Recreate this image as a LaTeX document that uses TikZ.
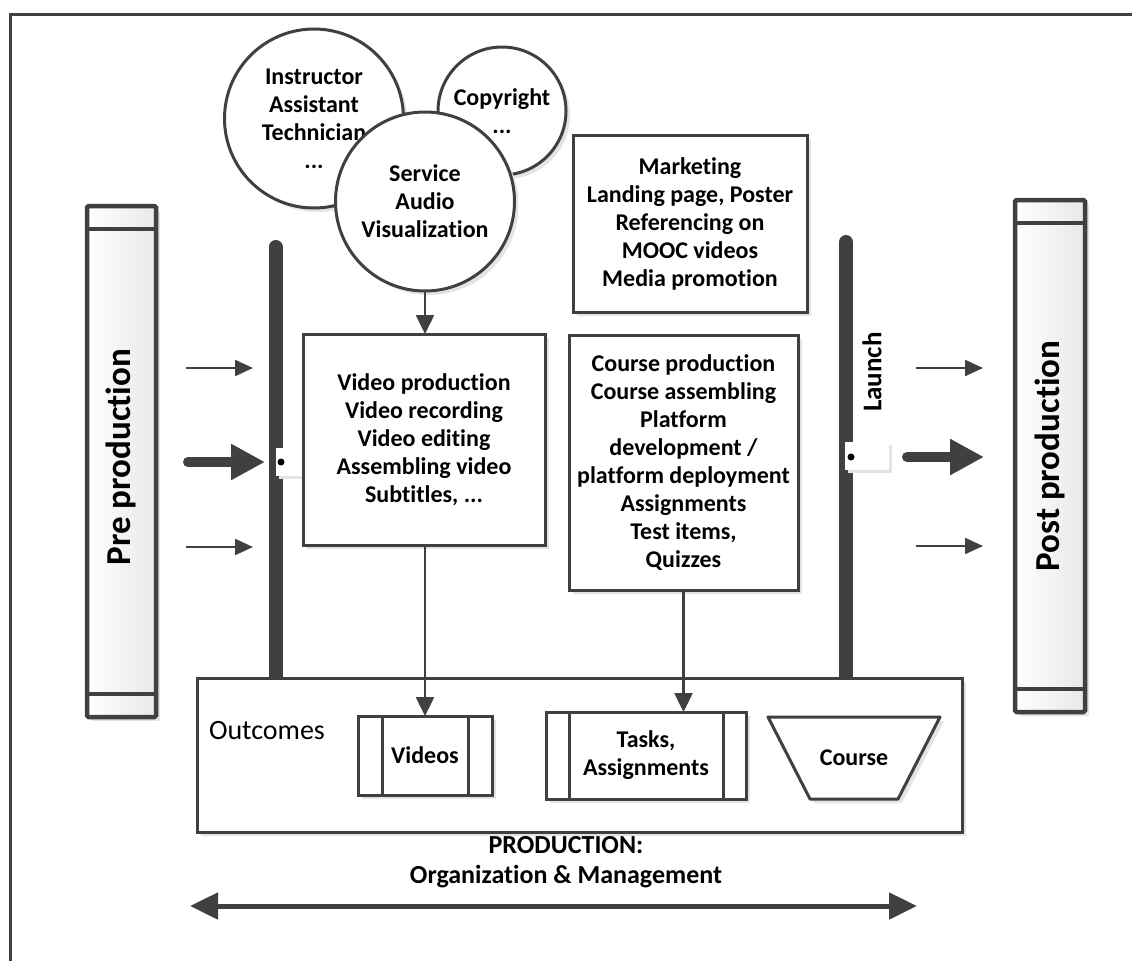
\documentclass[tikz,border=0pt]{standalone}
\usepackage{fontspec}
\setmainfont[Ligatures=NoCommon]{Carlito}
\usetikzlibrary{arrows.meta,shadows,calc}
\definecolor{ink}{HTML}{404040}
\definecolor{shade}{HTML}{E4E4E4}
\begin{document}
\begin{tikzpicture}[x=1pt,y=-1pt,
  every node/.style={inner sep=0pt, outer sep=0pt},
  txt/.style={font=\fontsize{24}{28}\selectfont\bfseries, align=center, text=black},
  soft/.style={drop shadow={shadow xshift=4pt, shadow yshift=-4pt, fill=shade, opacity=1}},
  box/.style={draw=ink, line width=3pt, fill=white, soft, txt},
  ball/.style={circle, draw=ink, line width=3pt, fill=white, soft, txt},
  phase/.style={draw=ink, line width=4.5pt, rounded corners=1.5pt, left color=white, right color=black!9, soft},
  phasetext/.style={font=\fontsize{35}{40}\selectfont\bfseries, rotate=90},
  bar/.style={draw=ink, line width=14pt, line cap=round},
  notch/.style={fill=white, drop shadow={shadow xshift=3pt, shadow yshift=-3pt, fill=shade, opacity=1}},
  dot/.style={circle, fill=black, minimum size=7pt},
  flow/.style={draw=ink, line width=2.2pt, -{Triangle[length=18pt,width=16pt]}},
  bigflow/.style={draw=ink, line width=10pt, line cap=round, -{Triangle[length=34pt,width=34pt]}},
  down/.style={draw=ink, line width=2.5pt, -{Triangle[length=19pt,width=18pt]}},
  span/.style={draw=ink, line width=5pt, {Triangle[length=28pt,width=26pt]}-{Triangle[length=28pt,width=26pt]}}
]
\useasboundingbox (0,0) rectangle (1132,961);

% outer frame
\draw[ink, line width=3pt] (10,961) -- (10,14) -- (1132,14);

% pre / post production columns
\node[phase, minimum width=69pt, minimum height=511pt] (pre) at (121.5,461.5) {};
\draw[ink, line width=4.5pt] ($(pre.north west)+(0,23)$) -- ($(pre.north east)+(0,23)$);
\draw[ink, line width=4.5pt] ($(pre.south west)+(0,-23)$) -- ($(pre.south east)+(0,-23)$);
\node[phasetext] (pretext) at (121,457) {Pre production};

\node[phase, minimum width=70pt, minimum height=512pt] (post) at (1050,456) {};
\draw[ink, line width=4.5pt] ($(post.north west)+(0,23)$) -- ($(post.north east)+(0,23)$);
\draw[ink, line width=4.5pt] ($(post.south west)+(0,-23)$) -- ($(post.south east)+(0,-23)$);
\node[phasetext] (posttext) at (1050,456) {Post production};

% synchronisation bars
\coordinate (lbartop) at (275.5,247);
\coordinate (lbarbot) at (275.5,676);
\coordinate (rbartop) at (846,242);
\coordinate (rbarbot) at (846,676);
\draw[bar] (lbartop) -- (lbarbot);
\draw[bar] (rbartop) -- (rbarbot);

\node[notch, minimum width=42pt, minimum height=28pt] (lnotch) at (297,462) {};
\node[dot] (ldot) at (281,462) {};
\node[notch, minimum width=44pt, minimum height=28pt] (rnotch) at (867,456) {};
\node[dot] (rdot) at (851,457) {};

\node[font=\fontsize{27}{31}\selectfont\bfseries, rotate=90] (launch) at (872,372) {Launch};

% arrows into and out of the production phase
\coordinate (la1) at (186,368);  \coordinate (lb1) at (253,368);
\coordinate (la2) at (188,462);  \coordinate (lb2) at (265,462);
\coordinate (la3) at (186,547);  \coordinate (lb3) at (253,547);
\coordinate (ra1) at (916,368);  \coordinate (rb1) at (983,368);
\coordinate (ra2) at (907,457);  \coordinate (rb2) at (984,457);
\coordinate (ra3) at (916,546);  \coordinate (rb3) at (983,546);
\draw[flow] (la1) -- (lb1);
\draw[bigflow] (la2) -- (lb2);
\draw[flow] (la3) -- (lb3);
\draw[flow] (ra1) -- (rb1);
\draw[bigflow] (ra2) -- (rb2);
\draw[flow] (ra3) -- (rb3);

% activity boxes
\node[box, minimum width=242pt, minimum height=211pt] (video) at (424,439.5)
  {Video production\\Video recording\\Video editing\\Assembling video\\Subtitles, ...};
\node[box, minimum width=234pt, minimum height=177pt] (market) at (690,223.5)
  {Marketing\\Landing page, Poster\\Referencing on\\MOOC videos\\Media promotion};
\node[box, minimum width=229pt, minimum height=255pt] (course) at (683.5,462.5)
  {Course production\\Course assembling\\Platform\\development /\\platform deployment\\Assignments\\Test items,\\Quizzes};

% resources
\node[ball, minimum size=179pt] (staff) at (314,118.5)
  {Instructor\\Assistant\\Technician\\...};
\node[ball, minimum size=128pt] (rights) at (502,111)
  {Copyright\\...};
\node[ball, minimum size=179pt] (service) at (425,201.5)
  {Service\\Audio\\Visualization};

% outcomes
\node[box, minimum width=765pt, minimum height=154pt] (outcomes) at (579.5,755) {};
\node[anchor=west, font=\fontsize{28}{32}\selectfont] (outlabel) at (209,731) {Outcomes};

\node[box, minimum width=134pt, minimum height=79pt] (videos) at (425,755.5) {Videos};
\draw[ink, line width=3pt] ($(videos.north west)+(24,0)$) -- ($(videos.south west)+(24,0)$);
\draw[ink, line width=3pt] ($(videos.north east)+(-24,0)$) -- ($(videos.south east)+(-24,0)$);

\node[box, minimum width=200pt, minimum height=87pt] (tasks) at (646,755.5) {Tasks,\\Assignments};
\draw[ink, line width=3pt] ($(tasks.north west)+(23,0)$) -- ($(tasks.south west)+(23,0)$);
\draw[ink, line width=3pt] ($(tasks.north east)+(-23,0)$) -- ($(tasks.south east)+(-23,0)$);

\coordinate (ctl) at (768,717);
\coordinate (ctr) at (940,717);
\coordinate (cbr) at (898,799);
\coordinate (cbl) at (810,799);
\draw[draw=ink, line width=3pt, fill=white, line join=round, soft] (ctl) -- (ctr) -- (cbr) -- (cbl) -- cycle;
\node[txt] (coursetext) at (854,758) {Course};

% connectors
\draw[down] (service.south) -- (service.south |- video.north);
\draw[down] (video.south -| videos.north) -- (videos.north);
\draw[down] (course.south) -- (course.south |- tasks.north);

% production span
\node[font=\fontsize{26}{30}\selectfont\bfseries, align=center] (prod) at (566,862)
  {PRODUCTION:\\Organization \& Management};
\coordinate (spanl) at (190,906);
\coordinate (spanr) at (917,906);
\draw[span] (spanl) -- (spanr);
\end{tikzpicture}
\end{document}
